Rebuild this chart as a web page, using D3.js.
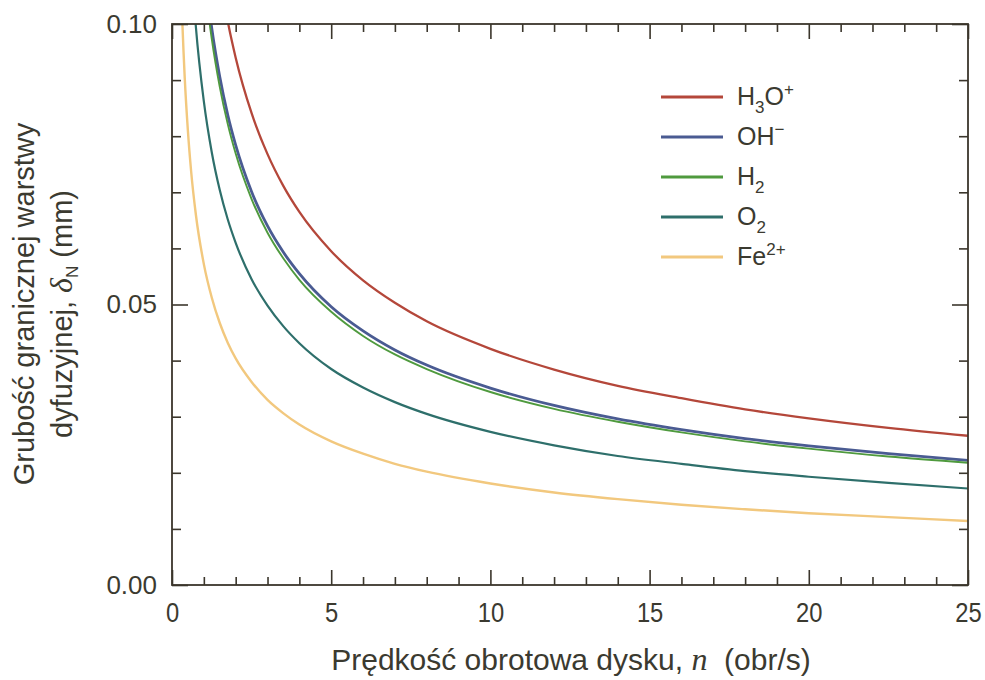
<!DOCTYPE html>
<html>
<head>
<meta charset="utf-8">
<script src="https://cdn.jsdelivr.net/npm/d3@7/dist/d3.min.js"></script>
<style>
  html, body { margin: 0; padding: 0; background: #fff; }
  svg { display: block; }
  text { font-family: "Liberation Sans", Arial, Helvetica, sans-serif; fill: #3b3a30; }
</style>
</head>
<body>
<svg id="chart" width="985" height="680"></svg>
<script>
// Rotation speed n (obr/s) and diffusion layer thickness δN (mm) for each species
const nH3O = [1.25, 1.5, 1.75, 2, 2.5, 3, 3.5, 4, 5, 6, 7, 8, 10, 12, 14, 16, 18, 20, 22.5, 25];
const dH3O = [0.1190, 0.1086, 0.1005, 0.0940, 0.0841, 0.0768, 0.0711, 0.0665, 0.0595, 0.0543, 0.0503, 0.0470, 0.0421, 0.0384, 0.0355, 0.0333, 0.0313, 0.0297, 0.0280, 0.0266];

const nOH = [0.75, 1, 1.25, 1.5, 1.75, 2, 2.5, 3, 3.5, 4, 5, 6, 7, 8, 10, 12, 14, 16, 18, 20, 22.5, 25];
const dOH = [0.1281, 0.1109, 0.0992, 0.0906, 0.0838, 0.0784, 0.0701, 0.0640, 0.0593, 0.0555, 0.0496, 0.0453, 0.0419, 0.0392, 0.0351, 0.0320, 0.0296, 0.0277, 0.0261, 0.0248, 0.0234, 0.0222];

const nH2 = [0.75, 1, 1.25, 1.5, 1.75, 2, 2.5, 3, 3.5, 4, 5, 6, 7, 8, 10, 12, 14, 16, 18, 20, 22.5, 25];
const dH2 = [0.1256, 0.1088, 0.0973, 0.0888, 0.0822, 0.0769, 0.0688, 0.0628, 0.0582, 0.0544, 0.0487, 0.0444, 0.0411, 0.0385, 0.0344, 0.0314, 0.0291, 0.0272, 0.0256, 0.0243, 0.0229, 0.0218];

const nO2 = [0.5, 0.6, 0.75, 1, 1.25, 1.5, 1.75, 2, 2.5, 3, 3.5, 4, 5, 6, 7, 8, 10, 12, 14, 16, 18, 20, 22.5, 25];
const dO2 = [0.1219, 0.1113, 0.0995, 0.0862, 0.0771, 0.0704, 0.0652, 0.0610, 0.0545, 0.0498, 0.0461, 0.0431, 0.0385, 0.0352, 0.0326, 0.0305, 0.0273, 0.0249, 0.0230, 0.0216, 0.0203, 0.0193, 0.0182, 0.0172];

const nFe = [0.25, 0.3, 0.4, 0.5, 0.6, 0.75, 1, 1.25, 1.5, 1.75, 2, 2.5, 3, 3.5, 4, 5, 6, 7, 8, 10, 12, 14, 16, 18, 20, 22.5, 25];
const dFe = [0.1144, 0.1044, 0.0904, 0.0809, 0.0738, 0.0660, 0.0572, 0.0512, 0.0467, 0.0432, 0.0404, 0.0362, 0.0330, 0.0306, 0.0286, 0.0256, 0.0234, 0.0216, 0.0202, 0.0181, 0.0165, 0.0153, 0.0143, 0.0135, 0.0128, 0.0121, 0.0114];

// Axis ticks
const xMajorTicks = [0, 5, 10, 15, 20, 25];
const xMinorTicks = d3.range(0, 26, 1).filter(v => v % 5 !== 0);
const yMajorTicks = [0, 0.05, 0.10];
const yMinorTicks = [0.01, 0.02, 0.03, 0.04, 0.06, 0.07, 0.08, 0.09];

// Series: drawing order back to front
const series = [
  { key: "Fe", n: nFe, d: dFe, color: "#f2c87e", width: 2.4 },
  { key: "O2", n: nO2, d: dO2, color: "#2e6f6b", width: 2.2 },
  { key: "OH", n: nOH, d: dOH, color: "#4a5b92", width: 2.8 },
  { key: "H2", n: nH2, d: dH2, color: "#4f9a3e", width: 1.9 },
  { key: "H3O", n: nH3O, d: dH3O, color: "#b4473a", width: 2.3 }
];
const legendOrder = ["H3O", "OH", "H2", "O2", "Fe"];

const svg = d3.select("#chart");
const plotL = 172, plotR = 968, plotT = 24, plotB = 585;
const axisColor = "#3b362c";
const textColor = "#3b3a30";

const x = d3.scaleLinear().domain([0, 25]).range([plotL, plotR]);
const y = d3.scaleLinear().domain([0, 0.10]).range([plotB, plotT]);

// Clip curves to the plotting frame
svg.append("defs").append("clipPath").attr("id", "plotClip")
  .append("rect").attr("x", plotL).attr("y", plotT)
  .attr("width", plotR - plotL).attr("height", plotB - plotT);

const line = d3.line()
  .x(p => x(p[0]))
  .y(p => y(p[1]))
  .curve(d3.curveMonotoneX);

const curves = svg.append("g").attr("clip-path", "url(#plotClip)");
series.forEach(s => {
  curves.append("path")
    .datum(s.n.map((v, i) => [v, s.d[i]]))
    .attr("fill", "none")
    .attr("stroke", s.color)
    .attr("stroke-width", s.width)
    .attr("d", line);
});

// Inward tick marks on all four sides
function styleAxis(g, size) {
  g.select(".domain").remove();
  g.selectAll(".tick line").attr("stroke", axisColor).attr("stroke-width", 1.6);
  g.selectAll("text").attr("font-size", size || 26).style("fill", textColor)
    .style("font-family", "'Liberation Sans', Arial, sans-serif");
}

svg.append("g").attr("transform", `translate(0,${plotB})`)
  .call(d3.axisBottom(x).tickValues(xMinorTicks).tickSize(-8).tickFormat(""))
  .call(styleAxis);
const xAxisG = svg.append("g").attr("transform", `translate(0,${plotB})`)
  .call(d3.axisBottom(x).tickValues(xMajorTicks).tickSizeInner(-15).tickSizeOuter(0)
    .tickPadding(18).tickFormat(d3.format("d")))
  .call(g => styleAxis(g, 27));
// the bottom numerals are set a little narrower
xAxisG.selectAll(".tick text").attr("transform", "scale(0.88,1)");

svg.append("g").attr("transform", `translate(0,${plotT})`)
  .call(d3.axisTop(x).tickValues(xMinorTicks).tickSize(-8).tickFormat(""))
  .call(styleAxis);
svg.append("g").attr("transform", `translate(0,${plotT})`)
  .call(d3.axisTop(x).tickValues(xMajorTicks).tickSize(-15).tickFormat(""))
  .call(styleAxis);

svg.append("g").attr("transform", `translate(${plotL},0)`)
  .call(d3.axisLeft(y).tickValues(yMinorTicks).tickSize(-9).tickFormat(""))
  .call(styleAxis);
svg.append("g").attr("transform", `translate(${plotL},0)`)
  .call(d3.axisLeft(y).tickValues(yMajorTicks).tickSizeInner(-16).tickSizeOuter(0)
    .tickPadding(15).tickFormat(d3.format(".2f")))
  .call(g => styleAxis(g, 26));

svg.append("g").attr("transform", `translate(${plotR},0)`)
  .call(d3.axisRight(y).tickValues(yMinorTicks).tickSize(-9).tickFormat(""))
  .call(styleAxis);
svg.append("g").attr("transform", `translate(${plotR},0)`)
  .call(d3.axisRight(y).tickValues(yMajorTicks).tickSize(-16).tickFormat(""))
  .call(styleAxis);

// Frame
svg.append("rect")
  .attr("x", plotL).attr("y", plotT)
  .attr("width", plotR - plotL).attr("height", plotB - plotT)
  .attr("fill", "none").attr("stroke", axisColor).attr("stroke-width", 1.8);

// Legend: label pieces as [text, position] with 0 normal, 1 subscript, -1 superscript
const legendLabels = {
  H3O: [["H", 0], ["3", 1], ["O", 0], ["+", -1]],
  OH:  [["OH", 0], ["\u2212", -1]],
  H2:  [["H", 0], ["2", 1]],
  O2:  [["O", 0], ["2", 1]],
  Fe:  [["Fe", 0], ["2+", -1]]
};
const legend = svg.append("g");
legendOrder.forEach((k, i) => {
  const s = series.find(t => t.key === k);
  const ly = 97 + i * 40;
  legend.append("line")
    .attr("x1", 661).attr("x2", 723).attr("y1", ly).attr("y2", ly)
    .attr("stroke", s.color).attr("stroke-width", k === "Fe" ? 3.2 : 2.8);
  const t = legend.append("text").attr("x", 737).attr("y", ly + 8).attr("font-size", 25);
  let cur = 0;
  legendLabels[k].forEach(([str, pos]) => {
    const target = pos === 1 ? 8 : pos === -1 ? -10 : 0;
    const sp = t.append("tspan").text(str).attr("dy", target - cur);
    if (pos !== 0) sp.attr("font-size", 17);
    cur = target;
  });
});

// X axis title
const xt = svg.append("text")
  .attr("x", 571).attr("y", 670).attr("text-anchor", "middle").attr("font-size", 30)
  .attr("xml:space", "preserve");
xt.append("tspan").text("Prędkość obrotowa dysku, ");
xt.append("tspan").text("n")
  .style("font-family", "'Liberation Serif', 'Times New Roman', serif")
  .style("font-style", "italic").attr("font-size", 32);
xt.append("tspan").text("  (obr/s)");

// Y axis title (two lines)
svg.append("text")
  .attr("transform", "translate(34,304) rotate(-90)")
  .attr("text-anchor", "middle").attr("font-size", 29)
  .text("Grubość granicznej warstwy");
const yt2 = svg.append("text")
  .attr("transform", "translate(72,314) rotate(-90)")
  .attr("text-anchor", "middle").attr("font-size", 29);
yt2.append("tspan").text("dyfuzyjnej, ");
yt2.append("tspan").text("δ")
  .style("font-family", "'Liberation Serif', 'Times New Roman', serif")
  .style("font-style", "italic").attr("font-size", 32);
yt2.append("tspan").text("N").attr("font-size", 17).attr("dy", 6);
yt2.append("tspan").text(" (mm)").attr("dy", -6);
</script>
</body>
</html>
